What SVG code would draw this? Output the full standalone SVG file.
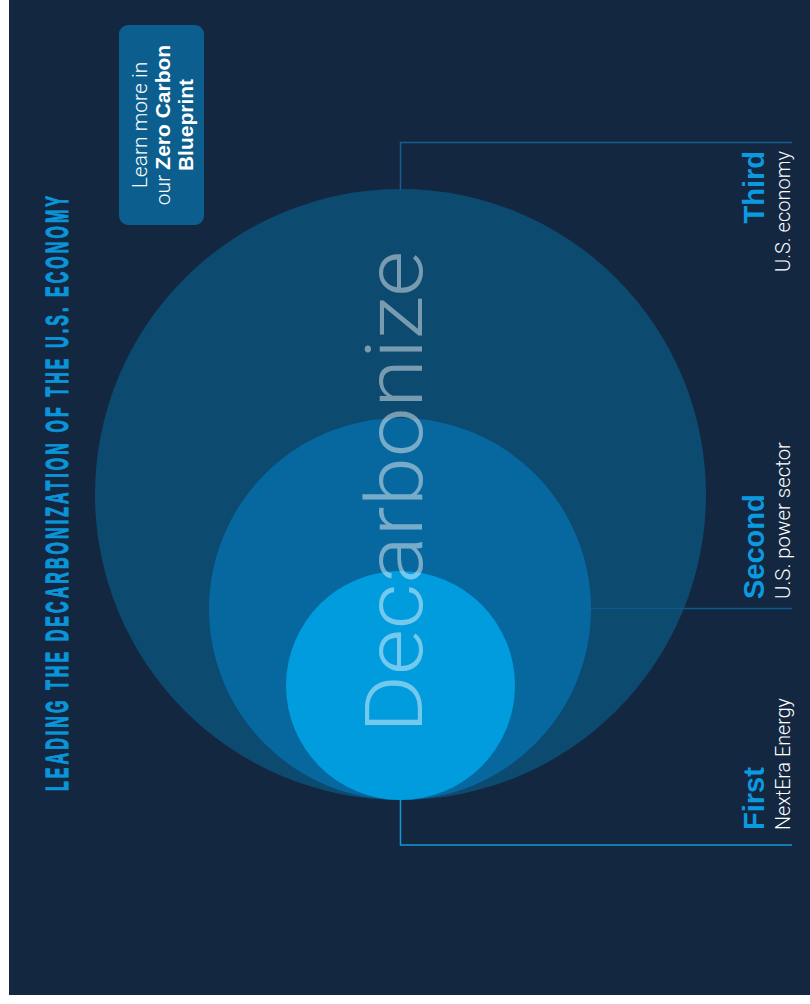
<svg xmlns="http://www.w3.org/2000/svg" width="810" height="1004" viewBox="0 0 810 1004">
  <style>
    .light { font-family: Roboto, "Liberation Sans", Arial, sans-serif; font-weight: 300; fill: #ffffff; }
    .bold { font-family: "Liberation Sans", Arial, sans-serif; font-weight: 700; }
    .label { font-size: 29px; fill: #0b9ae0; }
    .sub { font-size: 20px; }
    .cta { font-size: 21px; fill: #ffffff; }
    .connector { fill: none; stroke-width: 1.5; }
  </style>

  <!-- page background -->
  <rect x="0" y="0" width="810" height="1004" fill="#ffffff"/>
  <rect x="9" y="0" width="801" height="995" fill="#132741"/>

  <!-- vertical headline, squeezed along its reading direction -->
  <g id="headline" transform="translate(68,791) rotate(-90) scale(0.5,1)">
    <text x="0" y="0" font-family="'Liberation Sans', Arial, sans-serif" font-weight="700" font-size="32" fill="#0a95d9" stroke="#0a95d9" stroke-width="1.2" textLength="1190" lengthAdjust="spacing">LEADING THE DECARBONIZATION OF THE U.S. ECONOMY</text>
  </g>

  <!-- call-to-action box -->
  <g id="blueprint-box">
    <rect x="119" y="25" width="85" height="200" rx="9" fill="#0b5e8d"/>
    <text class="light cta" transform="translate(147,125) rotate(-90)" text-anchor="middle">Learn more in</text>
    <text class="light cta" transform="translate(170,125) rotate(-90)" text-anchor="middle">our <tspan class="bold">Zero Carbon</tspan></text>
    <text class="bold cta" transform="translate(193,125) rotate(-90)" text-anchor="middle">Blueprint</text>
  </g>

  <!-- nested circles -->
  <g id="third-circle">
    <circle cx="400.5" cy="494.5" r="305.5" fill="#0c4a70"/>
  </g>
  <g id="second-circle">
    <circle cx="400" cy="609" r="191" fill="#07679f"/>
  </g>
  <g id="first-circle">
    <circle cx="400.5" cy="685.5" r="114.5" fill="#009cde"/>
  </g>

  <!-- connectors from circles to labels -->
  <g id="connectors">
    <path class="connector" d="M400.5,190 V142.5 H792" stroke="#165e90"/>
    <path class="connector" d="M591,608.5 H792" stroke="#0f5a8b"/>
    <path class="connector" d="M400.5,800 V845 H792" stroke="#1496d7"/>
  </g>

  <!-- overlay word -->
  <g id="decarbonize">
    <text class="light" transform="translate(422,733) rotate(-90)" font-size="80" fill-opacity="0.45" textLength="482" lengthAdjust="spacingAndGlyphs">Decarbonize</text>
  </g>

  <!-- stage labels -->
  <g id="label-first">
    <text class="bold label" transform="translate(764,830) rotate(-90)">First</text>
    <text class="light sub" transform="translate(790,830) rotate(-90)" textLength="132" lengthAdjust="spacingAndGlyphs">NextEra Energy</text>
  </g>
  <g id="label-second">
    <text class="bold label" transform="translate(764,599) rotate(-90)">Second</text>
    <text class="light sub" transform="translate(790,599) rotate(-90)" textLength="157" lengthAdjust="spacingAndGlyphs">U.S. power sector</text>
  </g>
  <g id="label-third">
    <text class="bold label" transform="translate(764,151) rotate(-90)" text-anchor="end">Third</text>
    <text class="light sub" transform="translate(790,151) rotate(-90)" text-anchor="end" textLength="121" lengthAdjust="spacingAndGlyphs">U.S. economy</text>
  </g>
</svg>
